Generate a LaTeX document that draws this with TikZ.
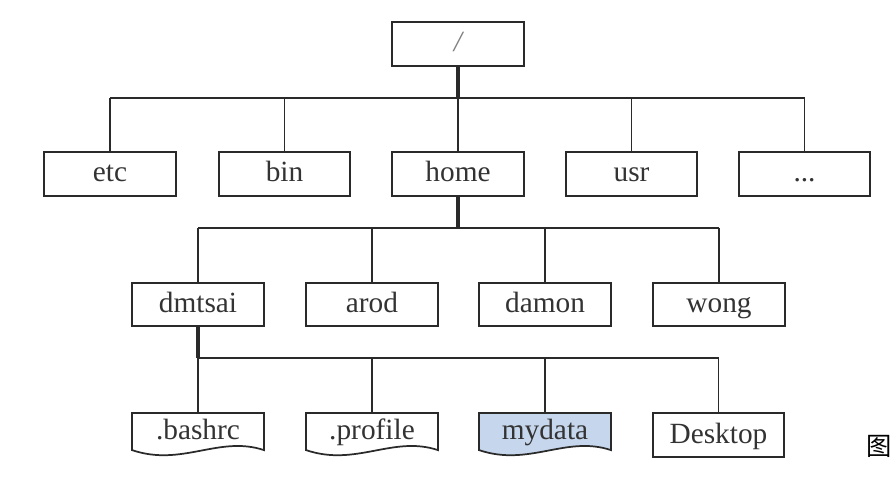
\documentclass[tikz,border=0pt]{standalone}
\usepackage{fontspec}
\setmainfont{Liberation Serif}
\newfontfamily\cjkfont{Noto Sans CJK SC}
\usetikzlibrary{calc}
\definecolor{ink}{HTML}{2A2A2A}
\definecolor{txt}{HTML}{333333}
\definecolor{docblue}{HTML}{C6D6EC}
\begin{document}
\begin{tikzpicture}[x=0.75pt,y=-0.75pt,
  font=\fontsize{22pt}{26pt}\selectfont,
  lbl/.style={text=txt,inner sep=0pt,text height=15pt,text depth=3pt},
  box/.style={lbl,draw=ink,line width=1.3pt,minimum width=98.5pt},
  lvlone/.style={box,minimum height=33.5pt},
  lvltwo/.style={box,minimum height=32.5pt,minimum width=99pt},
  docnode/.style={lbl,minimum width=98.5pt,minimum height=27.5pt},
  docline/.style={draw=ink,line width=1.3pt},
  trunk/.style={draw=ink,line width=2.8pt},
  barline/.style={draw=ink,line width=1.6pt},
  branch/.style={draw=ink,line width=1.3pt}]
\useasboundingbox (0,0) rectangle (892,488);
% root
\node[box,minimum height=33pt] (root) at (458,44) {\textcolor{gray}{\itshape /}};
% level 1
\node[lvlone] (etc)  at (110,174) {etc};
\node[lvlone] (bin)  at (284.5,174) {bin};
\node[lvlone] (home) at (458,174) {home};
\node[lvlone] (usr)  at (631.5,174) {usr};
\node[lvlone] (dots) at (804.5,174) {...};
% level 2
\node[lvltwo] (dmtsai) at (198,304.5) {dmtsai};
\node[lvltwo] (arod)   at (372,304.5) {arod};
\node[lvltwo] (damon)  at (545,304.5) {damon};
\node[lvltwo] (wong)   at (719,304.5) {wong};
% level 3
\node[docnode] (bashrc)  at (198,431.5) {};
\node[docnode] (profile) at (372,431.5) {};
\node[docnode] (mydata)  at (545,431.5) {};
\node[box,minimum height=33pt,minimum width=98pt] (desktop) at (718.5,435) {Desktop};
\foreach \n/\f in {bashrc/white,profile/white,mydata/docblue}{
  \draw[docline,fill=\f] (\n.north west) -- (\n.north east) -- (\n.south east)
    .. controls ($(\n.south east)+(-45,-15)$) and ($(\n.south west)+(50,17)$) .. (\n.south west) -- cycle;
}
\node[lbl] at (bashrc)  {.bashrc};
\node[lbl] at (profile) {.profile};
\node[lbl] at (mydata)  {mydata};
% bars
\coordinate (barA) at (458,98);
\coordinate (barB) at (458,228);
\coordinate (barC) at (198,358);
% root to level 1
\draw[trunk] (root.south) -- (barA);
\draw[barline] (barA -| etc.north) -- (barA -| dots.north);
\foreach \n in {etc,bin,home,usr,dots}{\draw[branch] (barA -| \n.north) -- (\n.north);}
% home to level 2
\draw[trunk] (home.south) -- (barB);
\draw[barline] (barB -| dmtsai.north) -- (barB -| wong.north);
\foreach \n in {dmtsai,arod,damon,wong}{\draw[branch] (barB -| \n.north) -- (\n.north);}
% dmtsai to level 3
\draw[trunk] (dmtsai.south) -- (barC);
\draw[barline] (barC) -- (barC -| desktop.north);
\foreach \n in {bashrc,profile,mydata,desktop}{\draw[branch] (barC -| \n.north) -- (\n.north);}
% caption character
\node[anchor=west,inner sep=0pt,text=black,font=\cjkfont\fontsize{19pt}{22pt}\selectfont] (cap) at (866,446) {图};
\end{tikzpicture}
\end{document}
